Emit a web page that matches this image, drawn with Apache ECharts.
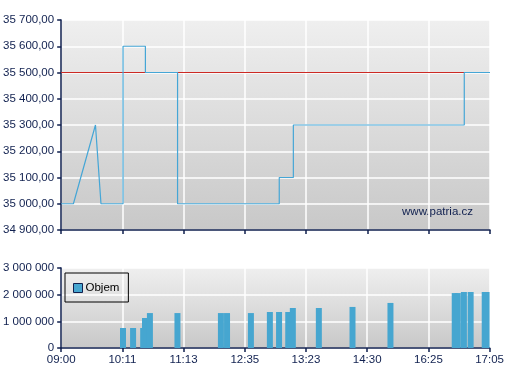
<!DOCTYPE html>
<html>
<head>
<meta charset="utf-8">
<style>
html,body{margin:0;padding:0;background:#fff;}
#c{width:507px;height:380px;}
</style>
<script src="https://cdn.jsdelivr.net/npm/echarts@6/dist/echarts.min.js"></script>
</head>
<body>
<div id="c"></div>
<script>
// Tick labels of the (trade-index based) time axis
const tickLabels = ['09:00', '10:11', '11:13', '12:35', '13:23', '14:30', '16:25', '17:05'];
// Price line: position along the axis (in tick-interval units) and price
const priceX = [0, 0.20, 0.56, 0.65, 1.01, 1.01, 1.375, 1.375, 1.90, 1.90, 3.56, 3.56, 3.79, 3.79, 6.58, 6.58, 7];
const priceY = [35000, 35000, 35300, 35000, 35000, 35600, 35600, 35500, 35500, 35000, 35000, 35100, 35100, 35300, 35300, 35500, 35500];
// Reference (previous close) price
const refPrice = 35500;
// Volume bars
const volX = [1.01, 1.175, 1.34, 1.37, 1.45, 1.90, 2.61, 2.71, 3.10, 3.41, 3.56, 3.71, 3.785, 4.21, 4.76, 5.38, 6.43, 6.48, 6.58, 6.69, 6.92, 6.95];
const volY = [750000, 750000, 750000, 1125000, 1310000, 1310000, 1310000, 1310000, 1310000, 1350000, 1350000, 1350000, 1500000, 1500000, 1540000, 1690000, 2060000, 2060000, 2100000, 2100000, 2100000, 2100000];

const navy = '#10204f';
const font = 'Liberation Sans';

function fmtThousands(v) {
  const s = String(Math.round(Math.abs(v)));
  return (v < 0 ? '-' : '') + s.replace(/\B(?=(\d{3})+(?!\d))/g, ' ');
}
function fmtPrice(v) { return fmtThousands(v) + ',00'; }

const bg = () => new echarts.graphic.LinearGradient(0, 0, 0, 1, [
  { offset: 0, color: '#efefef' },
  { offset: 1, color: '#c8c8c8' }
]);

const axisCommon = {
  axisLine: { show: true, lineStyle: { color: navy, width: 1.5 } },
  axisTick: { show: true, length: 4, lineStyle: { color: navy, width: 1.5 } },
  splitLine: { show: true, lineStyle: { color: '#ffffff', width: 1.5 } },
  axisLabel: { color: navy, fontFamily: font, fontSize: 11.5 }
};

const chart = echarts.init(document.getElementById('c'), null, { renderer: 'canvas' });
chart.setOption({
  animation: false,
  backgroundColor: '#ffffff',
  grid: [
    { left: 61, right: 17, top: 20, height: 210, show: true, backgroundColor: bg(), borderWidth: 0 },
    { left: 61, right: 17, top: 268, height: 80, show: true, backgroundColor: bg(), borderWidth: 0 }
  ],
  xAxis: [
    Object.assign({}, axisCommon, {
      type: 'value', gridIndex: 0, min: 0, max: 7, interval: 1,
      axisLabel: { show: false }
    }),
    Object.assign({}, axisCommon, {
      type: 'value', gridIndex: 1, min: 0, max: 7, interval: 1,
      axisLabel: Object.assign({}, axisCommon.axisLabel, {
        margin: 6,
        formatter: v => tickLabels[Math.round(v)] || ''
      })
    })
  ],
  yAxis: [
    Object.assign({}, axisCommon, {
      type: 'value', gridIndex: 0, min: 34900, max: 35700, interval: 100,
      axisLabel: Object.assign({}, axisCommon.axisLabel, { margin: 7, formatter: fmtPrice })
    }),
    Object.assign({}, axisCommon, {
      type: 'value', gridIndex: 1, min: 0, max: 3000000, interval: 1000000,
      axisLabel: Object.assign({}, axisCommon.axisLabel, { margin: 7, formatter: fmtThousands })
    })
  ],
  legend: {
    data: ['Objem'],
    left: 65, top: 273,
    orient: 'vertical',
    padding: [9, 9, 8, 8],
    borderColor: '#000', borderWidth: 1,
    itemWidth: 9, itemHeight: 9, itemGap: 4,
    icon: 'rect',
    itemStyle: { borderColor: '#10204f', borderWidth: 1 },
    textStyle: { color: '#000', fontFamily: font, fontSize: 11.5, padding: [0, 0, 0, -2] }
  },
  graphic: [
    {
      type: 'text', right: 34, top: 206,
      style: { text: 'www.patria.cz', fill: navy, font: '11.5px "Liberation Sans"' }
    }
  ],
  series: [
    {
      name: 'ref', type: 'line', xAxisIndex: 0, yAxisIndex: 0,
      data: [[0, refPrice], [7, refPrice]],
      symbol: 'none', lineStyle: { color: '#cc2a24', width: 1.2 }, silent: true, z: 2
    },
    {
      name: 'Cena', type: 'line', xAxisIndex: 0, yAxisIndex: 0,
      data: priceX.map((x, i) => [x, priceY[i]]),
      symbol: 'none', lineStyle: { color: '#45a6d6', width: 1.2 }, z: 3
    },
    {
      name: 'Objem', type: 'bar', xAxisIndex: 1, yAxisIndex: 1,
      data: volX.map((x, i) => [x, volY[i]]),
      barWidth: 6, clip: true,
      itemStyle: { color: '#46a6d0' }
    }
  ]
});
</script>
</body>
</html>
